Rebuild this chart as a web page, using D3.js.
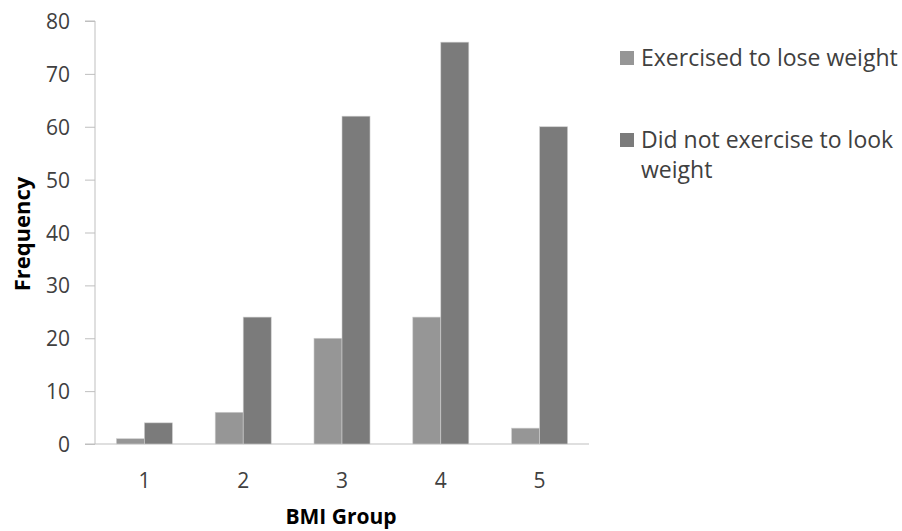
<!DOCTYPE html>
<html>
<head>
<meta charset="utf-8">
<script src="https://cdn.jsdelivr.net/npm/d3@7"></script>
<style>
  html, body { margin: 0; padding: 0; background: #fff; }
  svg { display: block; font-family: "Open Sans", Lato, sans-serif; }
</style>
</head>
<body>
<svg id="chart" width="902" height="531"></svg>
<script>
const categories = ["1", "2", "3", "4", "5"];
const seriesNames = ["Exercised to lose weight", "Did not exercise to look weight"];
const exercised = [1, 6, 20, 24, 3];
const notExercised = [4, 24, 62, 76, 60];
const yTicks = [0, 10, 20, 30, 40, 50, 60, 70, 80];
const colors = ["#969696", "#7b7b7b"];

const svg = d3.select("#chart");
const mLeft = 95, mRight = 589, mTop = 21, mBottom = 444;
const FONT = "'Open Sans', sans-serif";

const x = d3.scaleBand().domain(categories).range([mLeft, mRight]).paddingInner(0.433).paddingOuter(0.2165);
const xs = d3.scaleBand().domain([0, 1]).range([0, x.bandwidth()]);
const y = d3.scaleLinear().domain([0, 80]).range([mBottom, mTop]);

// y axis
const yAxis = svg.append("g").attr("transform", `translate(${mLeft},0)`)
  .call(d3.axisLeft(y).tickValues(yTicks).tickSize(10).tickPadding(15).tickFormat(d3.format("d")));
yAxis.select(".domain").attr("stroke", "#bfbfbf").attr("d", `M-10,${mTop}H0V${mBottom}`);
yAxis.selectAll(".tick line").attr("stroke", "#bfbfbf");
yAxis.selectAll(".tick text").attr("fill", "#404040").style("font-size", "21px")
  .style("font-family", FONT).attr("dy", "0.36em");

// x axis baseline
const xAxis = svg.append("g").attr("transform", `translate(0,${mBottom})`)
  .call(d3.axisBottom(x).tickSize(0).tickPadding(0));
xAxis.select(".domain").attr("stroke", "#bfbfbf").attr("d", `M${mLeft - 10},0H${mRight}`);
xAxis.selectAll(".tick text").attr("fill", "#404040").style("font-size", "21px")
  .style("font-family", FONT).attr("y", 44).attr("dy", 0);

// bars
const data = categories.map((c, i) => ({ c, vals: [exercised[i], notExercised[i]] }));
const groups = svg.append("g").selectAll("g").data(data).join("g")
  .attr("transform", d => `translate(${x(d.c)},0)`);
groups.selectAll("rect").data(d => d.vals.map((v, k) => ({ v, k }))).join("rect")
  .attr("x", d => xs(d.k))
  .attr("width", xs.bandwidth())
  .attr("y", d => y(d.v))
  .attr("height", d => y(0) - y(d.v))
  .attr("fill", d => colors[d.k])
  .attr("stroke", "#cfcfcf")
  .attr("stroke-width", 0.6);

// axis titles
svg.append("text")
  .attr("transform", `translate(30,${234}) rotate(-90)`)
  .attr("text-anchor", "middle")
  .attr("fill", "#000")
  .style("font-size", "22px").style("font-weight", "bold")
  .text("Frequency");
svg.append("text")
  .attr("x", 341).attr("y", 524)
  .attr("text-anchor", "middle")
  .attr("fill", "#000")
  .style("font-size", "21px").style("font-weight", "bold")
  .text("BMI Group");

// legend
const legendItems = [
  { lines: ["Exercised to lose weight"], y: 51 },
  { lines: ["Did not exercise to look", "weight"], y: 133 }
];
const lg = svg.append("g");
legendItems.forEach((it, i) => {
  lg.append("rect").attr("x", 620).attr("y", it.y).attr("width", 14).attr("height", 14)
    .attr("fill", colors[i]);
  const t = lg.append("text").attr("x", 641).attr("y", it.y + 15)
    .attr("fill", "#404040").style("font-size", "23px");
  it.lines.forEach((ln, j) => {
    t.append("tspan").attr("x", 641).attr("dy", j === 0 ? 0 : 30).text(ln);
  });
});
</script>
</body>
</html>
